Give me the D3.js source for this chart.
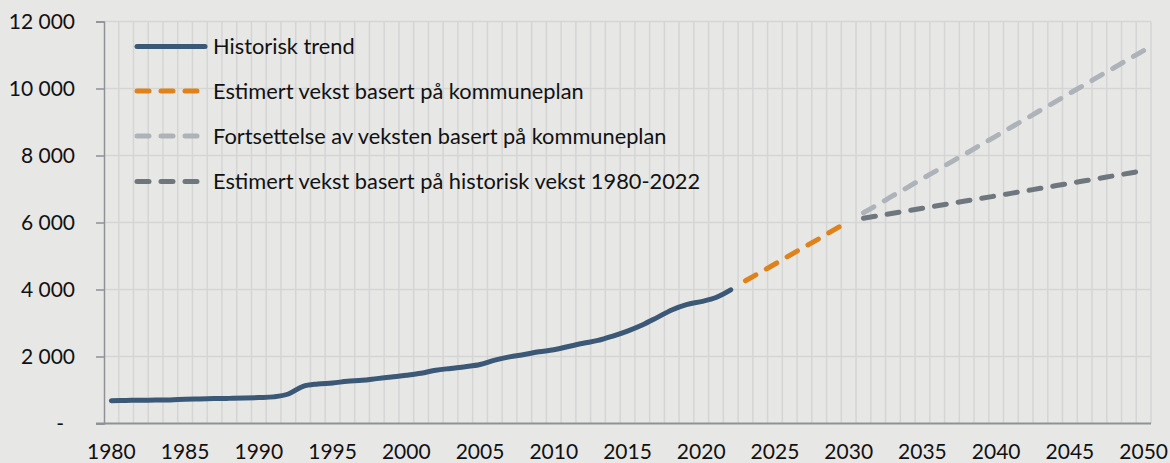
<!DOCTYPE html>
<html>
<head>
<meta charset="utf-8">
<script src="https://cdn.jsdelivr.net/npm/d3@7"></script>
<style>
  html, body { margin: 0; padding: 0; background: #e7e7e6; }
  svg { display: block; }
  text { font-family: Lato, "Open Sans", sans-serif; fill: #111; }
</style>
</head>
<body>
<svg id="chart" width="1170" height="463"></svg>
<script>
// years on the category axis
const years = d3.range(1980, 2051);
const tickYears = [1980, 1985, 1990, 1995, 2000, 2005, 2010, 2015, 2020, 2025, 2030, 2035, 2040, 2045, 2050];
const yTicks = [0, 2000, 4000, 6000, 8000, 10000, 12000];

// Historisk trend 1980-2022
const histYears = d3.range(1980, 2023);
const histValues = [680, 690, 695, 700, 705, 725, 735, 745, 750, 760,
  775, 795, 880, 1110, 1180, 1210, 1260, 1290, 1340, 1390,
  1440, 1500, 1590, 1645, 1695, 1760, 1890, 1990, 2060, 2140,
  2200, 2300, 2395, 2480, 2610, 2760, 2940, 3160, 3390, 3550,
  3640, 3760, 3990];

// Estimert vekst basert på kommuneplan 2023-2030
const planYears = d3.range(2023, 2031);
const planValues = [4260, 4510, 4760, 5020, 5270, 5520, 5780, 6030];

// Fortsettelse + historisk vekst 2031-2050
const futureYears = d3.range(2031, 2051);
const contValues = [6290, 6540, 6800, 7050, 7310, 7560, 7820, 8070, 8330, 8580,
  8840, 9090, 9350, 9600, 9860, 10110, 10370, 10620, 10880, 11130];
const histGrowthValues = [6125, 6200, 6275, 6350, 6425, 6500, 6575, 6650, 6720, 6795,
  6870, 6945, 7020, 7095, 7170, 7245, 7320, 7395, 7470, 7550];

const series = [
  { name: "Historisk trend", years: histYears, values: histValues, color: "#3b5877", dash: null },
  { name: "Estimert vekst basert på kommuneplan", years: planYears, values: planValues, color: "#e0821a", dash: "12,12" },
  { name: "Fortsettelse av veksten basert på kommuneplan", years: futureYears, values: contValues, color: "#adb3b8", dash: "12,12" },
  { name: "Estimert vekst basert på historisk vekst 1980-2022", years: futureYears, values: histGrowthValues, color: "#6f777e", dash: "12,12" }
];

const plotLeft = 104, plotRight = 1151, plotTop = 21.5, plotBottom = 423.5;
const svg = d3.select("#chart");

const x = d3.scaleBand().domain(years).range([plotLeft, plotRight]);
const xc = yr => x(yr) + x.bandwidth() / 2;
const y = d3.scaleLinear().domain([0, 12000]).range([plotBottom, plotTop]);

const grid = svg.append("g");
// horizontal gridlines
grid.selectAll(".hg").data(yTicks.filter(d => d > 0)).enter().append("line")
  .attr("x1", plotLeft).attr("x2", plotRight)
  .attr("y1", d => y(d)).attr("y2", d => y(d))
  .attr("stroke", "#d5d5d5").attr("stroke-width", 1.5);
// vertical gridlines at category boundaries
grid.selectAll(".vg").data(years.slice(1).concat([null])).enter().append("line")
  .attr("x1", d => d === null ? plotRight : x(d))
  .attr("x2", d => d === null ? plotRight : x(d))
  .attr("y1", plotTop).attr("y2", plotBottom)
  .attr("stroke", "#d5d5d5").attr("stroke-width", 1.5);

// y axis
const yAxis = svg.append("g").attr("transform", `translate(${plotLeft},0)`)
  .call(d3.axisLeft(y).tickValues(yTicks).tickSize(8).tickPadding(6)
    .tickFormat(d => d === 0 ? "-" : d3.format(",")(d).replace(/,/g, "\u00a0")));
yAxis.select(".domain").attr("stroke", "#8e9296").attr("stroke-width", 1.5);
yAxis.selectAll(".tick line").attr("stroke", "#8e9296").attr("stroke-width", 1.5);
yAxis.selectAll(".tick text").attr("font-size", 21).attr("dy", "0.35em")
  .attr("x", d => d === 0 ? -40 : -29).attr("fill", "#111");

// x axis
const xAxis = svg.append("g").attr("transform", `translate(0,${plotBottom})`)
  .call(d3.axisBottom(x).tickValues(tickYears).tickSize(0).tickPadding(21));
xAxis.select(".domain").attr("stroke", "none");
xAxis.selectAll(".tick text").attr("font-size", 21).attr("fill", "#111");
svg.append("line")
  .attr("x1", plotLeft - 8).attr("x2", plotRight)
  .attr("y1", plotBottom).attr("y2", plotBottom)
  .attr("stroke", "#8e9296").attr("stroke-width", 2);

// series lines
const line = d3.line().curve(d3.curveCatmullRom.alpha(0));
series.forEach(s => {
  const pts = s.years.map((yr, i) => [xc(yr), y(s.values[i])]);
  svg.append("path")
    .attr("d", line(pts))
    .attr("fill", "none")
    .attr("stroke", s.color)
    .attr("stroke-width", 5)
    .attr("stroke-linecap", "round")
    .attr("stroke-linejoin", "round")
    .attr("stroke-dasharray", s.dash);
});

// legend
const legend = svg.append("g");
const rows = [46.5, 91, 136, 181.5];
series.forEach((s, i) => {
  legend.append("line")
    .attr("x1", 137).attr("x2", 205)
    .attr("y1", rows[i]).attr("y2", rows[i])
    .attr("stroke", s.color).attr("stroke-width", 5)
    .attr("stroke-linecap", "round")
    .attr("stroke-dasharray", s.dash);
  legend.append("text")
    .attr("x", 213).attr("y", rows[i]).attr("dy", "0.35em")
    .attr("font-size", 21.8)
    .text(s.name);
});
</script>
</body>
</html>
